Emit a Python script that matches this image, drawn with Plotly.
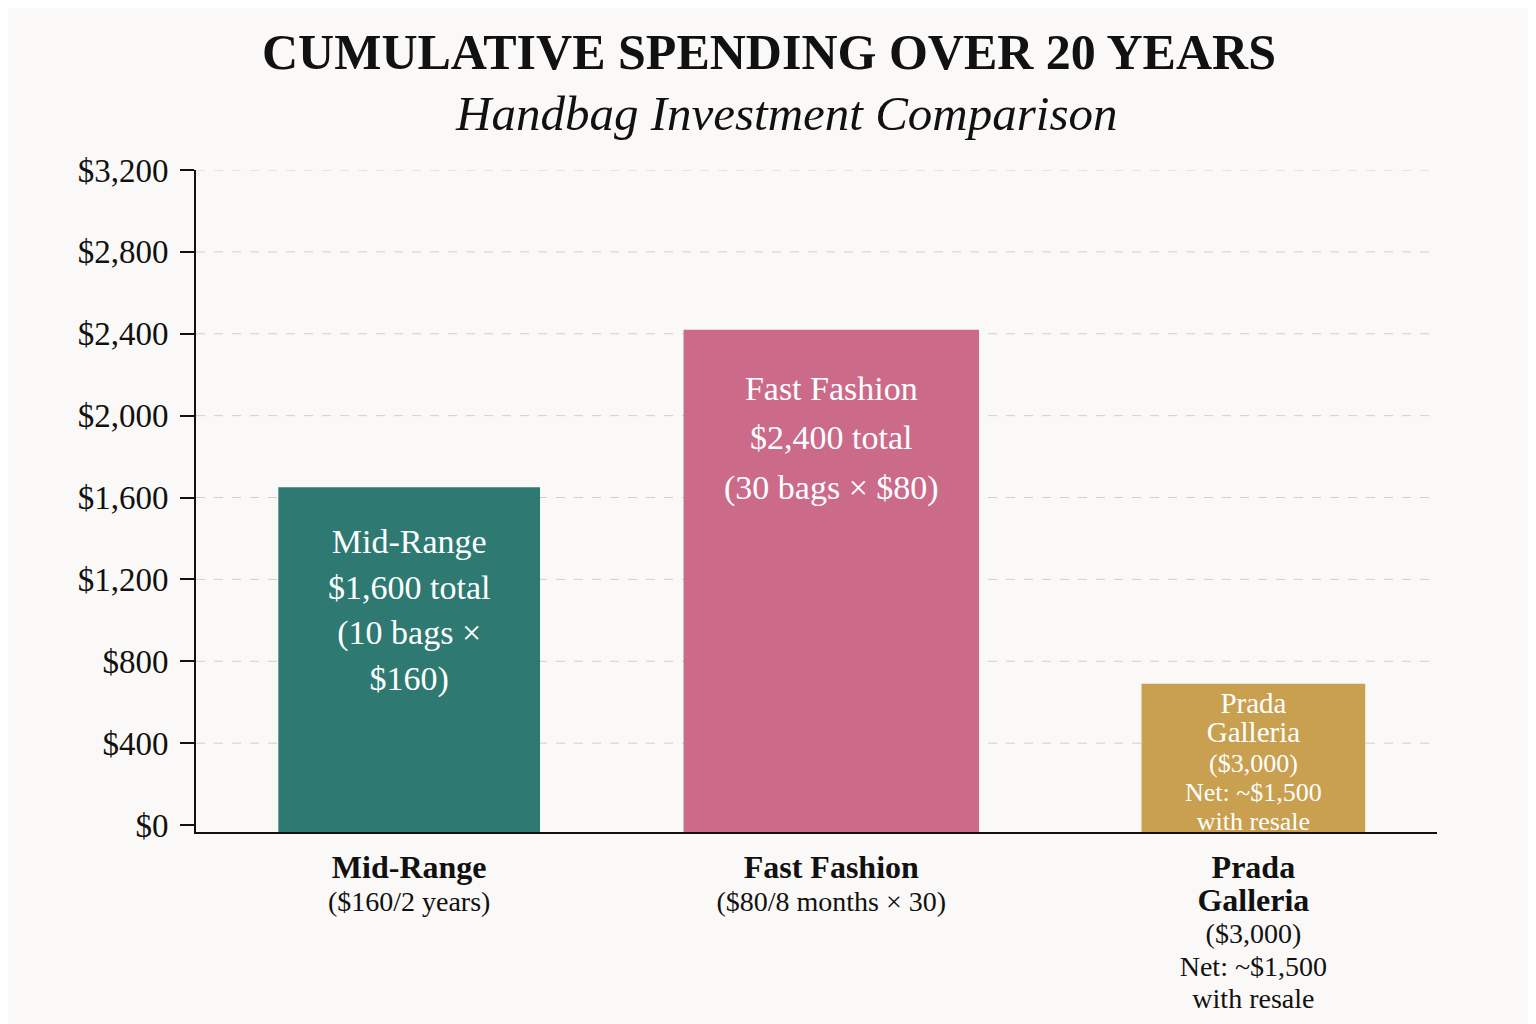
import plotly.graph_objects as go

# data
categories = ["Mid-Range", "Fast Fashion", "Prada Galleria"]
totals = [1650, 2420, 690]
tick_labels = [
    "<span style='font-size:32px'><b>Mid-Range</b></span><br><span style='font-size:28px'>($160/2 years)</span>",
    "<span style='font-size:32px'><b>Fast Fashion</b></span><br><span style='font-size:28px'>($80/8 months × 30)</span>",
    "<span style='font-size:32px'><b>Prada<br>Galleria</b></span><br>"
    "<span style='font-size:28px'>($3,000)<br>Net: ~$1,500<br>with resale</span>",
]
bar_text = [
    "<span style='font-size:34px'>Mid-Range<br>$1,600 total<br>(10 bags ×<br>$160)</span>",
    "<span style='font-size:34px'>Fast Fashion<br>$2,400 total<br>(30 bags × $80)</span>",
    "<span style='font-size:29px'>Prada<br>Galleria</span><br><span style='font-size:26px'>($3,000)<br>Net: ~$1,500<br>with resale</span>",
]
y_ticks = [0, 400, 800, 1200, 1600, 2000, 2400, 2800, 3200]
Y_MIN, Y_MAX = -34, 3200

colors = ["#2e7a72", "#cc6a8a", "#c9a050"]
widths = [0.62, 0.70, 0.53]
text_sizes = [35, 38, 22.5]
text_shift = [-34, -38, -1]
FONT = "Liberation Serif"

fig = go.Figure()

# dashed gridlines (none at $0, as in the reference)
for v in y_ticks[1:]:
    fig.add_shape(type="line", xref="paper", yref="y", x0=0, x1=1, y0=v, y1=v,
                  line=dict(color="#cfcfcf", width=1, dash="dash"), layer="below")

fig.add_trace(go.Bar(
    x=[0, 1, 2], y=[t - Y_MIN for t in totals], base=Y_MIN, width=widths,
    marker=dict(color=colors, line=dict(width=0)),
    hoverinfo="skip",
))

# labels written inside each bar, hung from the bar top
for i, (val, txt) in enumerate(zip(totals, bar_text)):
    fig.add_annotation(
        x=i, y=val, xref="x", yref="y", text=txt, showarrow=False,
        yanchor="top", yshift=text_shift[i], align="center",
        font=dict(family=FONT, size=text_sizes[i], color="white"),
    )

fig.add_annotation(
    text="<b>CUMULATIVE SPENDING OVER 20 YEARS</b>", xref="paper", yref="paper",
    x=0.462, y=1.178, xanchor="center", yanchor="middle", showarrow=False,
    font=dict(family=FONT, size=50, color="#111111"),
)
fig.add_annotation(
    text="<i>Handbag Investment Comparison</i>", xref="paper", yref="paper",
    x=0.4754, y=1.086, xanchor="center", yanchor="middle", showarrow=False,
    font=dict(family=FONT, size=49, color="#111111"),
)

fig.update_layout(
    width=1536, height=1024,
    paper_bgcolor="#faf9f7", plot_bgcolor="#faf9f7",
    margin=dict(l=188, r=107, t=162, b=200),
    showlegend=False,
    font=dict(family=FONT, color="#111111"),
)
fig.update_xaxes(
    tickvals=[0, 1, 2], ticktext=tick_labels, range=[-0.505, 2.435],
    tickfont=dict(family=FONT, size=25, color="#111111"),
    ticklabelstandoff=14,
    showline=True, linecolor="#111111", linewidth=2,
    ticks="", showgrid=False, zeroline=False,
)
fig.update_yaxes(
    range=[Y_MIN, Y_MAX], tickvals=y_ticks,
    ticktext=["${:,}".format(v) for v in y_ticks],
    tickfont=dict(family=FONT, size=33, color="#111111"),
    ticklabelstandoff=5,
    showline=True, linecolor="#111111", linewidth=2,
    ticks="outside", ticklen=14, tickcolor="#111111", tickwidth=2,
    showgrid=False, zeroline=False,
)

fig.write_html("out.html")
